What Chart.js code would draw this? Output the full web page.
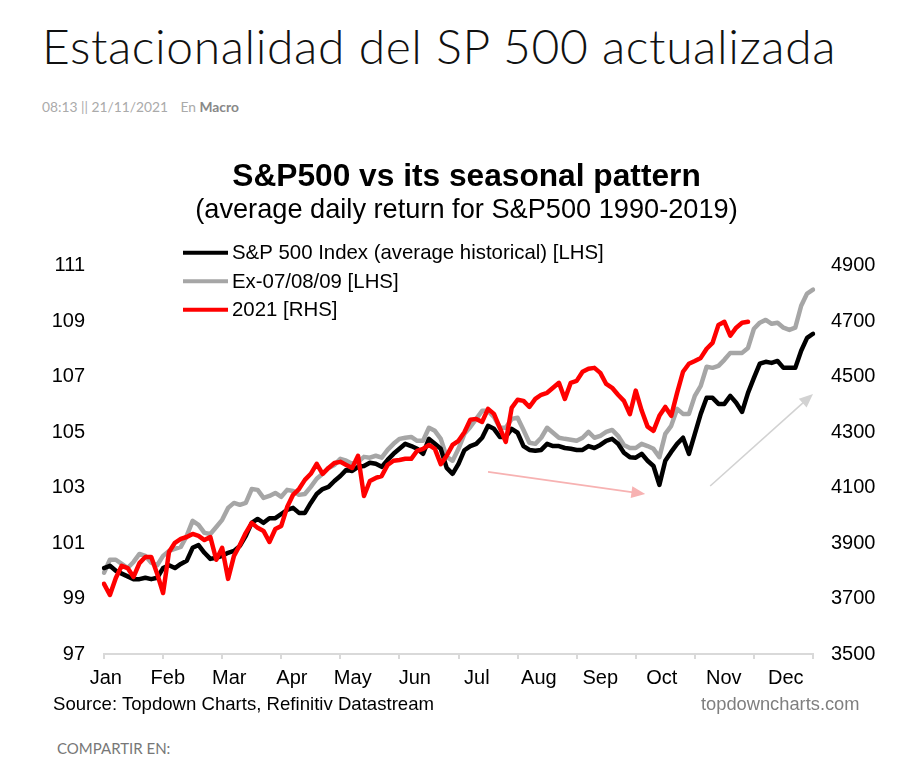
<!DOCTYPE html>
<html>
<head>
<meta charset="utf-8">
<title>Estacionalidad del SP 500 actualizada</title>
<script src="https://cdn.jsdelivr.net/npm/chart.js@4.4.0/dist/chart.umd.min.js"></script>
<style>
  body { margin: 0; background: #fff; width: 917px; height: 757px; overflow: hidden; position: relative; font-family: "Liberation Sans", Arial, sans-serif; }
  #head { position: absolute; left: 42px; top: 22px; font-family: Lato, "Open Sans", sans-serif; font-weight: 300; font-size: 48px; line-height: 48px; color: #111; letter-spacing: 0.6px; white-space: nowrap; }
  #meta { position: absolute; left: 42px; top: 100px; font-family: Lato, sans-serif; font-size: 13.8px; line-height: 13px; color: #aaa; white-space: nowrap; }
  #meta .en { margin-left: 9px; }
  #meta b { color: #888; }
  #wrap { position: absolute; left: 0; top: 140px; width: 917px; height: 560px; }
  #src { position: absolute; left: 53px; top: 695px; font-size: 18.6px; line-height: 18px; color: #000; white-space: nowrap; }
  #web { position: absolute; left: 701px; top: 695px; font-size: 18.3px; line-height: 18px; color: #7f7f7f; white-space: nowrap; }
  #share { position: absolute; left: 57px; top: 741px; font-family: Lato, sans-serif; font-size: 15px; line-height: 15px; color: #777; white-space: nowrap; }
</style>
</head>
<body>
<div id="head">Estacionalidad del SP 500 actualizada</div>
<div id="meta">08:13 || 21/11/2021 <span class="en">En</span> <b>Macro</b></div>
<div id="wrap"><canvas id="seasonChart"></canvas></div>
<div id="src">Source: Topdown Charts, Refinitiv Datastream</div>
<div id="web">topdowncharts.com</div>
<div id="share">COMPARTIR EN:</div>

<script>
// month labels and where they sit along the trading-day index
const monthNames = ['Jan', 'Feb', 'Mar', 'Apr', 'May', 'Jun', 'Jul', 'Aug', 'Sep', 'Oct', 'Nov', 'Dec'];
const monthPos = [0.3, 10.8, 21.2, 31.8, 42.1, 52.6, 63.1, 73.6, 84.0, 94.4, 104.9, 115.4];

// S&P 500 average historical path [LHS]
const spAvg = [
  100.1, 100.18, 100.0, 99.9, 99.8, 99.7, 99.7, 99.75, 99.7, 99.75,
  100.1, 100.2, 100.1, 100.25, 100.36, 100.83, 100.93, 100.65, 100.43, 100.47,
  100.54, 100.65, 100.72, 100.9, 101.26, 101.73, 101.87, 101.73, 101.9, 101.9,
  102.05, 102.2, 102.27, 102.09, 102.09, 102.45, 102.77, 102.95, 103.03, 103.24,
  103.42, 103.64, 103.6, 103.75, 103.78, 103.9, 103.86, 103.75, 104.0, 104.22,
  104.4, 104.58, 104.5, 104.4, 104.22, 104.76, 104.58, 104.4, 103.71, 103.5,
  103.86, 104.35, 104.5, 104.58, 104.8, 105.23, 105.12, 104.83, 104.83, 105.12,
  104.98, 104.5, 104.36, 104.33, 104.36, 104.58, 104.5, 104.5, 104.43, 104.4,
  104.36, 104.36, 104.5, 104.43, 104.54, 104.69, 104.76, 104.58, 104.26, 104.1,
  104.08, 104.22, 103.97, 103.78, 103.1, 103.97, 104.29, 104.58, 104.8, 104.22,
  104.94, 105.66, 106.24, 106.24, 106.02, 106.02, 106.31, 106.06, 105.73, 106.42,
  106.96, 107.47, 107.54, 107.5, 107.57, 107.32, 107.32, 107.32, 107.94, 108.4,
  108.55
];

// average path excluding 2007/08/09 [LHS]
const spEx = [
  99.93, 100.4, 100.4, 100.25, 100.1, 100.32, 100.61, 100.54, 100.29, 100.2,
  100.54, 100.72, 100.79, 100.86, 101.26, 101.8, 101.66, 101.37, 101.33, 101.58,
  101.84, 102.27, 102.45, 102.38, 102.45, 102.95, 102.92, 102.63, 102.7, 102.81,
  102.67, 102.92, 102.88, 102.74, 102.77, 103.03, 103.32, 103.5, 103.71, 103.82,
  104.04, 103.97, 103.86, 103.93, 104.11, 104.08, 104.15, 104.08, 104.36, 104.58,
  104.76, 104.8, 104.83, 104.69, 104.69, 105.16, 105.05, 104.76, 104.11, 103.97,
  104.4, 104.94, 105.19, 105.48, 105.77, 105.77, 105.55, 105.16, 105.16, 105.48,
  105.52, 105.08, 104.62, 104.58, 104.8, 105.16, 104.98, 104.8, 104.76, 104.73,
  104.69, 104.8, 105.01, 104.8, 104.87, 105.01, 105.08, 104.87, 104.54, 104.43,
  104.43, 104.58, 104.5, 104.4, 104.1, 104.94, 105.23, 105.84, 105.66, 105.66,
  106.31, 106.67, 107.36, 107.32, 107.39, 107.61, 107.86, 107.86, 107.86, 108.04,
  108.73, 108.95, 109.05, 108.91, 108.95, 108.77, 108.69, 108.77, 109.56, 110.0,
  110.14
];

// S&P 500 in 2021 [RHS], up to mid November
const sp2021 = [
  3753, 3713, 3774, 3818, 3810, 3778, 3828, 3850, 3850, 3789,
  3720, 3868, 3901, 3915, 3922, 3933, 3926, 3911, 3922, 3840,
  3883, 3771, 3854, 3893, 3937, 3973, 3955, 3944, 3904, 3951,
  3962, 4030, 4074, 4095, 4128, 4150, 4186, 4150, 4171, 4189,
  4193, 4182, 4171, 4215, 4070, 4124, 4135, 4142, 4182, 4197,
  4200, 4204, 4204, 4233, 4240, 4254, 4240, 4185, 4215, 4254,
  4269, 4300, 4345, 4348, 4337, 4384, 4366, 4316, 4265, 4388,
  4417, 4413, 4391, 4420, 4435, 4442, 4460, 4478, 4420, 4478,
  4485, 4518, 4529, 4532, 4514, 4474, 4460, 4435, 4413, 4365,
  4450, 4378, 4320, 4305, 4359, 4391, 4359, 4442, 4518, 4547,
  4557, 4568, 4601, 4622, 4687, 4698, 4648, 4677, 4695, 4698
];

const days = spAvg.map((_, i) => i);

// the two hand-drawn arrows, in (day index, LHS value)
const arrows = [
  { from: [65, 103.57], to: [91.6, 102.77], color: '#f7b2b2' },
  { from: [102.6, 103.06], to: [120, 106.38], color: '#d2d2d2' }
];

Chart.defaults.font.family = '"Liberation Sans", Arial, sans-serif';
Chart.defaults.color = '#000';

const arrowPlugin = {
  id: 'arrows',
  afterDatasetsDraw(chart) {
    const ctx = chart.ctx;
    const xs = chart.scales.x, ys = chart.scales.y;
    arrows.forEach(a => {
      const x1 = xs.getPixelForValue(a.from[0]), y1 = ys.getPixelForValue(a.from[1]);
      const x2 = xs.getPixelForValue(a.to[0]), y2 = ys.getPixelForValue(a.to[1]);
      const ang = Math.atan2(y2 - y1, x2 - x1);
      const head = 15;
      ctx.save();
      ctx.strokeStyle = a.color;
      ctx.fillStyle = a.color;
      ctx.lineWidth = 1.6;
      ctx.beginPath();
      ctx.moveTo(x1, y1);
      ctx.lineTo(x2 - head * 0.8 * Math.cos(ang), y2 - head * 0.8 * Math.sin(ang));
      ctx.stroke();
      ctx.beginPath();
      ctx.moveTo(x2, y2);
      ctx.lineTo(x2 - head * Math.cos(ang - 0.4), y2 - head * Math.sin(ang - 0.4));
      ctx.lineTo(x2 - head * Math.cos(ang + 0.4), y2 - head * Math.sin(ang + 0.4));
      ctx.closePath();
      ctx.fill();
      ctx.restore();
    });
  }
};

// legend sits inside the plot, top left
const legendPlugin = {
  id: 'plotLegend',
  afterDraw(chart) {
    const ctx = chart.ctx;
    const area = chart.chartArea;
    const x0 = area.left + 79, y0 = area.top - 13;
    ctx.save();
    ctx.font = '20.4px "Liberation Sans", Arial, sans-serif';
    ctx.textBaseline = 'middle';
    chart.data.datasets.forEach((ds, i) => {
      const yy = y0 + i * 28.5;
      ctx.strokeStyle = ds.borderColor;
      ctx.lineWidth = 4;
      ctx.beginPath();
      ctx.moveTo(x0, yy);
      ctx.lineTo(x0 + 45, yy);
      ctx.stroke();
      ctx.fillStyle = '#000';
      ctx.fillText(ds.label, x0 + 49, yy + 1);
    });
    ctx.restore();
  }
};

const ctx = document.getElementById('seasonChart').getContext('2d');
const seasonChart = new Chart(ctx, {
  type: 'line',
  data: {
    labels: days,
    datasets: [
      { label: 'S&P 500 Index (average historical) [LHS]', data: spAvg, borderColor: '#000000', yAxisID: 'y', order: 1 },
      { label: 'Ex-07/08/09 [LHS]', data: spEx, borderColor: '#a6a6a6', yAxisID: 'y', order: 2 },
      { label: '2021 [RHS]', data: sp2021, borderColor: '#ff0000', yAxisID: 'y1', order: 0 }
    ]
  },
  options: {
    responsive: true,
    maintainAspectRatio: false,
    animation: false,
    elements: {
      point: { radius: 0 },
      line: { borderWidth: 4.5, tension: 0, borderJoinStyle: 'round', borderCapStyle: 'round' }
    },
    layout: { padding: { left: 16, right: 0, top: 0, bottom: 6 } },
    plugins: {
      legend: { display: false },
      tooltip: { enabled: false },
      title: {
        display: true,
        text: 'S&P500 vs its seasonal pattern',
        color: '#000',
        font: { size: 31.7, weight: 'bold', lineHeight: 1.08 },
        padding: { top: 20, bottom: 2 }
      },
      subtitle: {
        display: true,
        text: '(average daily return for S&P500 1990-2019)',
        color: '#000',
        font: { size: 27.2, lineHeight: 1.07 },
        padding: { top: 0, bottom: 40.5 }
      }
    },
    scales: {
      x: {
        type: 'category',
        weight: 0,
        grid: { display: true, drawOnChartArea: false, drawTicks: true, tickLength: 5, color: '#d9d9d9', lineWidth: 2 },
        border: { display: true, color: '#d9d9d9', width: 2 },
        ticks: { display: false, autoSkip: false },
        afterBuildTicks: s => { s.ticks = s.ticks.filter(t => t.value % 10 === 0); },
        afterFit: s => { s.height = 0; }
      },
      x2: {
        type: 'linear',
        position: 'bottom',
        weight: 1,
        min: 0,
        max: days.length - 1,
        grid: { display: false, drawTicks: false },
        border: { display: false },
        ticks: { color: '#000', font: { size: 20 }, padding: 12, autoSkip: false, maxRotation: 0,
                 callback: (v, i) => monthNames[i] },
        afterBuildTicks: s => { s.ticks = monthPos.map(v => ({ value: v })); },
        afterFit: s => { s.height = 40; }
      },
      y: {
        position: 'left',
        min: 97,
        max: 111,
        grid: { display: false, drawTicks: false },
        border: { display: false },
        ticks: { stepSize: 2, color: '#000', font: { size: 20 }, padding: 19, callback: v => String(v) },
        afterFit: s => { s.width = 88; }
      },
      y1: {
        position: 'right',
        min: 3500,
        max: 4900,
        grid: { display: false, drawTicks: false },
        border: { display: false },
        ticks: { stepSize: 200, color: '#000', font: { size: 20 }, padding: 18, callback: v => String(v) },
        afterFit: s => { s.width = 104; }
      }
    }
  },
  plugins: [arrowPlugin, legendPlugin]
});
</script>
</body>
</html>
